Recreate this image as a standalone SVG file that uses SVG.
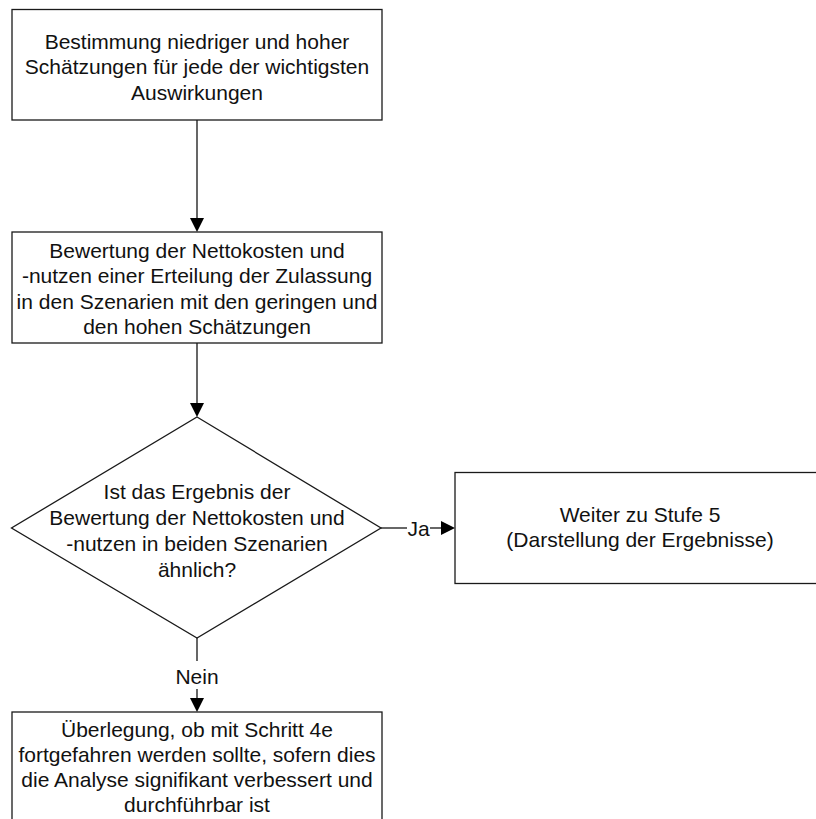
<svg xmlns="http://www.w3.org/2000/svg" width="816" height="819" viewBox="0 0 816 819">
  <style>
    .box { fill: #ffffff; stroke: #1a1a1a; stroke-width: 1.3; }
    .lbl { font-family: "Liberation Sans", Arial, sans-serif; font-size: 21px; fill: #111111; text-anchor: middle; }
    .wire { fill: none; stroke: #000000; stroke-width: 1.2; }
    .head { fill: #000000; stroke: none; }
  </style>
  <rect width="816" height="819" fill="#ffffff"/>

  <!-- connectors -->
  <g id="connectors">
    <line class="wire" x1="197" y1="120" x2="197" y2="219"/>
    <polygon class="head" points="190,218 204,218 197,232"/>
    <line class="wire" x1="197" y1="343" x2="197" y2="404"/>
    <polygon class="head" points="190,403 204,403 197,417"/>
    <line class="wire" x1="381" y1="528" x2="407" y2="528"/>
    <text class="lbl" x="418.5" y="535.5">Ja</text>
    <line class="wire" x1="430" y1="528" x2="442" y2="528"/>
    <polygon class="head" points="441,521 441,535 455,528"/>
    <line class="wire" x1="197" y1="638" x2="197" y2="661"/>
    <text class="lbl" x="197" y="683.5">Nein</text>
    <line class="wire" x1="197" y1="689" x2="197" y2="699"/>
    <polygon class="head" points="190,698 204,698 197,712"/>
  </g>

  <!-- step 1 -->
  <g id="n-estimates">
    <rect class="box" x="12" y="9.5" width="370" height="110.5"/>
    <text class="lbl" x="197" y="48.5">Bestimmung niedriger und hoher</text>
    <text class="lbl" x="197" y="74">Schätzungen für jede der wichtigsten</text>
    <text class="lbl" x="197" y="99.5">Auswirkungen</text>
  </g>

  <!-- step 2 -->
  <g id="n-evaluation">
    <rect class="box" x="12" y="232" width="370" height="111"/>
    <text class="lbl" x="197" y="257.5">Bewertung der Nettokosten und</text>
    <text class="lbl" x="197" y="283">-nutzen einer Erteilung der Zulassung</text>
    <text class="lbl" x="197" y="308.5">in den Szenarien mit den geringen und</text>
    <text class="lbl" x="197" y="334">den hohen Schätzungen</text>
  </g>

  <!-- decision -->
  <g id="n-decision">
    <polygon class="box" points="197,417 381,528 197,638 11.5,528"/>
    <text class="lbl" x="197" y="498.5">Ist das Ergebnis der</text>
    <text class="lbl" x="197" y="524.5">Bewertung der Nettokosten und</text>
    <text class="lbl" x="197" y="550.5">-nutzen in beiden Szenarien</text>
    <text class="lbl" x="197" y="576.5">ähnlich?</text>
  </g>

  <!-- yes branch -->
  <g id="n-next-stage">
    <rect class="box" x="455" y="472.5" width="370" height="111"/>
    <text class="lbl" x="640" y="521.5">Weiter zu Stufe 5</text>
    <text class="lbl" x="640" y="546.5">(Darstellung der Ergebnisse)</text>
  </g>

  <!-- no branch -->
  <g id="n-step-4e">
    <rect class="box" x="12" y="712" width="370" height="111"/>
    <text class="lbl" x="197" y="737">Überlegung, ob mit Schritt 4e</text>
    <text class="lbl" x="197" y="762">fortgefahren werden sollte, sofern dies</text>
    <text class="lbl" x="197" y="787">die Analyse signifikant verbessert und</text>
    <text class="lbl" x="197" y="812">durchführbar ist</text>
  </g>
</svg>
